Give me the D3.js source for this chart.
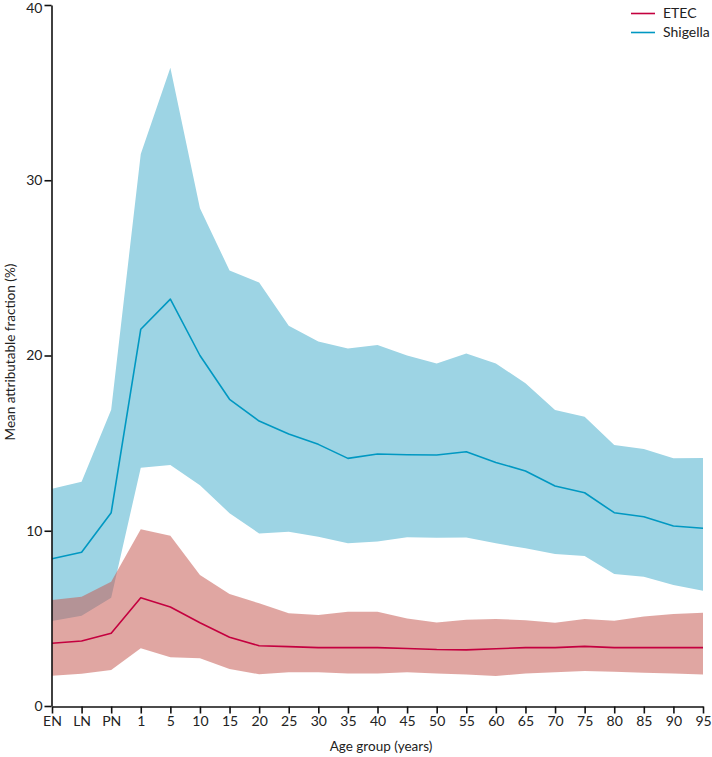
<!DOCTYPE html>
<html>
<head>
<meta charset="utf-8">
<script src="https://cdn.jsdelivr.net/npm/d3@7"></script>
<style>
  html, body { margin: 0; padding: 0; background: #fff; }
  svg { display: block; font-family: Lato, "Open Sans", sans-serif; }
</style>
</head>
<body>
<svg id="chart" width="712" height="757"></svg>
<script>
const categories = ["EN","LN","PN","1","5","10","15","20","25","30","35","40","45","50","55","60","65","70","75","80","85","90","95"];
const yTicks = [0, 10, 20, 30, 40];

const shigellaMean  = [8.4, 8.77, 11.03, 21.5, 23.22, 20.0, 17.5, 16.26, 15.52, 14.93, 14.13, 14.38, 14.34, 14.32, 14.51, 13.9, 13.41, 12.55, 12.17, 11.03, 10.8, 10.27, 10.14];
const shigellaUpper = [12.4, 12.8, 16.9, 31.5, 36.42, 28.4, 24.85, 24.16, 21.7, 20.8, 20.4, 20.6, 20.0, 19.55, 20.12, 19.55, 18.41, 16.89, 16.51, 14.89, 14.66, 14.13, 14.15];
const shigellaLower = [4.85, 5.15, 6.18, 13.6, 13.75, 12.6, 11.0, 9.85, 9.95, 9.66, 9.28, 9.38, 9.63, 9.6, 9.62, 9.28, 9.0, 8.67, 8.56, 7.53, 7.38, 6.9, 6.58];

const etecMean  = [3.58, 3.71, 4.15, 6.18, 5.65, 4.75, 3.92, 3.44, 3.39, 3.33, 3.33, 3.33, 3.28, 3.22, 3.2, 3.27, 3.33, 3.33, 3.4, 3.33, 3.33, 3.33, 3.33];
const etecUpper = [6.05, 6.24, 7.09, 10.08, 9.72, 7.47, 6.39, 5.86, 5.29, 5.19, 5.38, 5.38, 5.0, 4.77, 4.92, 4.96, 4.9, 4.75, 4.96, 4.87, 5.1, 5.25, 5.32];
const etecLower = [1.73, 1.84, 2.05, 3.29, 2.78, 2.72, 2.11, 1.81, 1.92, 1.92, 1.86, 1.86, 1.92, 1.86, 1.8, 1.71, 1.86, 1.92, 2.0, 1.96, 1.9, 1.86, 1.8];

const seriesNames = ["ETEC", "Shigella"];
const lineColors = { ETEC: "#c4003f", Shigella: "#0098c2" };

const svg = d3.select("#chart");
const x = d3.scalePoint().domain(categories).range([52, 703]);
const y = d3.scaleLinear().domain([0, 40]).range([706, 5]);

function rows(mean, lo, hi) {
  return categories.map((c, i) => ({ c, m: mean[i], lo: lo[i], hi: hi[i] }));
}
const shig = rows(shigellaMean, shigellaLower, shigellaUpper);
const etec = rows(etecMean, etecLower, etecUpper);

const area = d3.area().x(d => x(d.c)).y0(d => y(d.lo)).y1(d => y(d.hi));
const line = d3.line().x(d => x(d.c)).y(d => y(d.m));

// bands
svg.append("path").datum(shig).attr("d", area).attr("fill", "#9dd4e4");
svg.append("path").datum(etec).attr("d", area).attr("fill", "rgb(199,93,86)").attr("fill-opacity", 0.55);

// lines
svg.append("path").datum(shig).attr("d", line).attr("fill", "none")
  .attr("stroke", lineColors.Shigella).attr("stroke-width", 1.6).attr("stroke-linejoin", "round");
svg.append("path").datum(etec).attr("d", line).attr("fill", "none")
  .attr("stroke", lineColors.ETEC).attr("stroke-width", 1.6).attr("stroke-linejoin", "round");

// axes
const yAxis = svg.append("g").attr("transform", "translate(51.5,0)")
  .call(d3.axisLeft(y).tickValues(yTicks).tickSize(7).tickSizeOuter(0).tickPadding(2));
const xAxis = svg.append("g").attr("transform", "translate(0,706.5)")
  .call(d3.axisBottom(x).tickSize(7).tickSizeOuter(0).tickPadding(3));

[yAxis, xAxis].forEach(g => {
  g.select(".domain").attr("stroke", "#111").attr("stroke-width", 1.6);
  g.selectAll(".tick line").attr("stroke", "#111").attr("stroke-width", 1.6);
  g.selectAll(".tick text").attr("fill", "#222").attr("font-size", 14)
    .attr("font-family", "Lato, 'Open Sans', sans-serif");
});
yAxis.selectAll(".tick text").filter(d => d === 40).attr("dy", "0.55em");

// axis titles
svg.append("text").attr("x", 381).attr("y", 751)
  .attr("text-anchor", "middle").attr("font-size", 13.5).attr("fill", "#222")
  .text("Age group (years)");
svg.append("text").attr("transform", "translate(15,352) rotate(-90)")
  .attr("text-anchor", "middle").attr("font-size", 13.5).attr("fill", "#222")
  .text("Mean attributable fraction (%)");

// legend
const leg = svg.append("g");
seriesNames.forEach((s, i) => {
  const ly = 13.5 + i * 19;
  leg.append("line").attr("x1", 631).attr("x2", 655).attr("y1", ly).attr("y2", ly)
    .attr("stroke", lineColors[s]).attr("stroke-width", 1.6);
  leg.append("text").attr("x", 663).attr("y", ly).attr("dy", "0.35em")
    .attr("font-size", 14).attr("fill", "#222").text(s);
});
</script>
</body>
</html>
